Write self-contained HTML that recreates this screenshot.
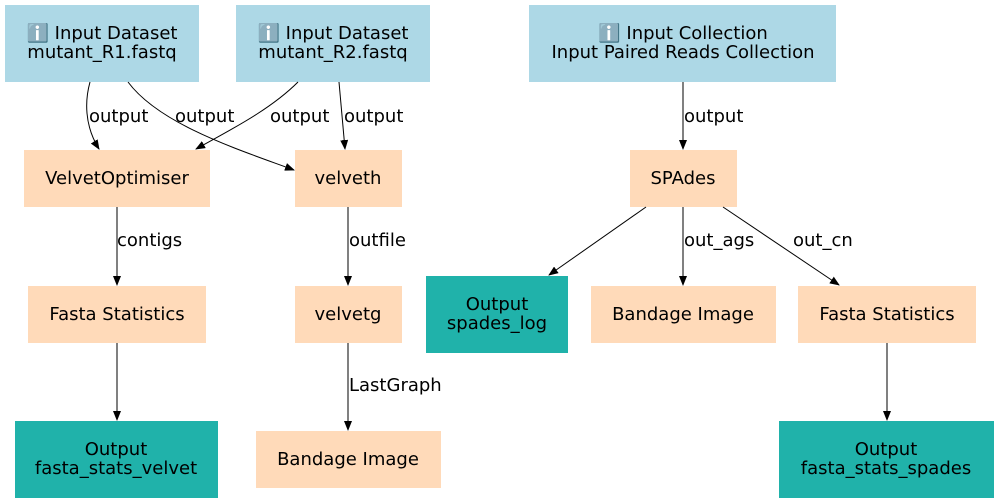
<!DOCTYPE html>
<html><head><meta charset="utf-8"><style>
html,body{margin:0;padding:0;background:#fff;}
svg{display:block;}
text{font-family:"DejaVu Sans","Liberation Sans",sans-serif;font-size:18px;fill:#000;}
</style></head><body>
<svg width="999" height="504" viewBox="0 0 999 504" xmlns="http://www.w3.org/2000/svg">
<defs><marker id="a" markerWidth="10" markerHeight="8" refX="9" refY="4" orient="auto" markerUnits="userSpaceOnUse"><path d="M0,0 L10,4 L0,8 z" fill="#000"/></marker></defs>
<g fill="#add8e6">
<rect x="5" y="5" width="194" height="77"/>
<rect x="236" y="5" width="194" height="77"/>
<rect x="529" y="5" width="307" height="77"/>
</g>
<g fill="#ffdab9">
<rect x="24" y="150" width="186" height="57"/>
<rect x="295" y="150" width="107" height="57"/>
<rect x="630" y="150" width="107" height="57"/>
<rect x="28" y="286" width="178" height="57"/>
<rect x="295" y="286" width="107" height="57"/>
<rect x="591" y="286" width="185" height="57"/>
<rect x="798" y="286" width="178" height="57"/>
<rect x="256" y="431" width="185" height="57"/>
</g>
<g fill="#20b2aa">
<rect x="426" y="276" width="142" height="77"/>
<rect x="15" y="421" width="203" height="77"/>
<rect x="779" y="421" width="215" height="77"/>
</g>
<g text-anchor="middle">
<text x="102" y="39">ℹ️ Input Dataset</text><text x="102" y="58">mutant_R1.fastq</text>
<text x="333" y="39">ℹ️ Input Dataset</text><text x="333" y="58">mutant_R2.fastq</text>
<text x="683" y="39">ℹ️ Input Collection</text><text x="683" y="58">Input Paired Reads Collection</text>
<text x="117" y="184">VelvetOptimiser</text>
<text x="348" y="184">velveth</text>
<text x="683" y="184">SPAdes</text>
<text x="117" y="320">Fasta Statistics</text>
<text x="348" y="320">velvetg</text>
<text x="497" y="310">Output</text><text x="497" y="329">spades_log</text>
<text x="683" y="320">Bandage Image</text>
<text x="887" y="320">Fasta Statistics</text>
<text x="116" y="455">Output</text><text x="116" y="474">fasta_stats_velvet</text>
<text x="348" y="465">Bandage Image</text>
<text x="886" y="455">Output</text><text x="886" y="474">fasta_stats_spades</text>
</g>
<g fill="none" stroke="#000" stroke-width="1" marker-end="url(#a)">
<path d="M90,82 C85,100 84,125 99,149"/>
<path d="M128,82 C160,125 240,150 294,170"/>
<path d="M298,82 C270,110 230,130 196,149"/>
<path d="M339,82 L345,149"/>
<path d="M683,82 L683,149"/>
<path d="M117,207 L117,285"/>
<path d="M348,207 L348,285"/>
<path d="M646,207 L549,275"/>
<path d="M683,207 L683,285"/>
<path d="M723,207 L839,285"/>
<path d="M117,343 L117,420"/>
<path d="M348,343 L348,430"/>
<path d="M887,343 L887,420"/>
</g>
<g>
<text x="89" y="122">output</text>
<text x="175" y="122">output</text>
<text x="270" y="122">output</text>
<text x="344" y="122">output</text>
<text x="684" y="122">output</text>
<text x="117" y="246">contigs</text>
<text x="349" y="246">outfile</text>
<text x="684" y="246">out_ags</text>
<text x="793" y="246">out_cn</text>
<text x="349" y="391">LastGraph</text>
</g>
</svg>
</body></html>
